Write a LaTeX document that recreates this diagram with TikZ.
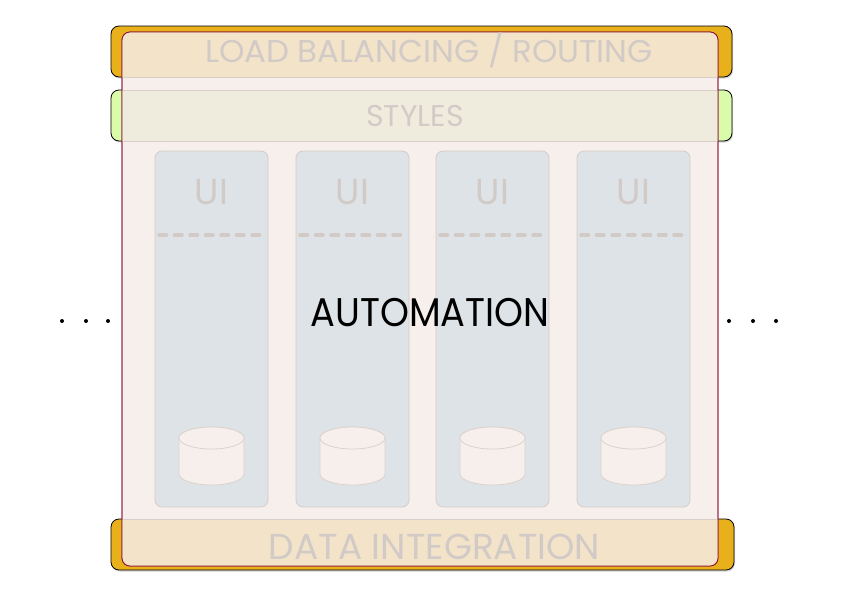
\documentclass[tikz,border=0pt]{standalone}
\usepackage{fontspec}
\setmainfont{Poppins}
\usetikzlibrary{shadows}
\definecolor{orangebar}{HTML}{E8B11C}
\definecolor{greenbar}{HTML}{DAFBAA}
\definecolor{panelfill}{HTML}{F7EFEC}
\definecolor{panelline}{HTML}{8E1235}
\definecolor{bandorange}{HTML}{F2E3C9}
\definecolor{bandgreen}{HTML}{EFECDE}
\definecolor{bandline}{HTML}{D8CDC7}
\definecolor{colfill}{HTML}{DDE3E6}
\definecolor{colline}{HTML}{D5CCC7}
\definecolor{ghost}{HTML}{D2CAC6}
\definecolor{cylline}{HTML}{DCD2CD}
\definecolor{dashcol}{HTML}{D3C9C5}
\tikzset{
  x=1pt,y=-1pt,
  bar/.style={draw=black,line width=0.8pt,rounded corners=8pt,drop shadow={shadow xshift=1pt,shadow yshift=-1.5pt,opacity=0.35}},
  panel/.style={draw=panelline,line width=0.8pt,fill=panelfill,rounded corners=8pt},
  band/.style={draw=bandline,line width=0.6pt},
  column/.style={draw=colline,fill=colfill,line width=0.8pt,rounded corners=7pt},
  ghosttext/.style={text=ghost,inner sep=0pt,anchor=base},
  uitext/.style={ghosttext,font=\fontsize{36}{38}\selectfont},
  cylbody/.style={draw=cylline,fill=panelfill,line width=0.8pt},
  sepline/.style={draw=dashcol,line width=3.5pt,dash pattern=on 7.5pt off 8pt,line cap=round},
  dot/.style={circle,fill=black,inner sep=0pt,minimum size=4pt}
}
\begin{document}
\begin{tikzpicture}
\useasboundingbox (0,0) rectangle (841,595);
% background bars
\path[bar,fill=orangebar] (111,26) rectangle (732,77);
\path[bar,fill=greenbar] (111,90) rectangle (732,141);
\path[bar,fill=orangebar] (111,519) rectangle (734,570);
% main panel
\path[panel] (122,32) rectangle (718,566);
% bands
\begin{scope}
\clip[rounded corners=8pt] (122,32) rectangle (718,566);
\fill[bandorange] (122,32) rectangle (718,77);
\draw[band] (122,77) -- (718,77);
\fill[bandgreen] (122,90) rectangle (718,141);
\draw[band] (122,90) -- (718,90);
\draw[band] (122,141) -- (718,141);
\fill[bandorange] (122,519) rectangle (718,566);
\draw[band] (122,519) -- (718,519);
\end{scope}
\draw[panelline,line width=0.8pt,rounded corners=8pt] (122,32) rectangle (718,566);
% band texts
\node[ghosttext,font=\fontsize{31.5}{33}\selectfont,xscale=1.03] (lb) at (429,62) {LOAD BALANCING / ROUTING};
\node[ghosttext,font=\fontsize{30}{32}\selectfont] (st) at (415,126) {STYLES};
\node[ghosttext,font=\fontsize{36}{38}\selectfont] (di) at (434.5,559) {DATA INTEGRATION};
% columns
\foreach \i/\xl in {1/155,2/296,3/436,4/577}{
  \path[column] (\xl,151) rectangle (\xl+113,507);
  \node[uitext] (ui\i) at (\xl+56.5,204) {UI};
  \coordinate (sl\i) at (\xl+4,235);
  \coordinate (sr\i) at (\xl+110,235);
  \draw[sepline] (sl\i) -- (sr\i);
  \coordinate (db\i) at (\xl+56.5,438);
  \path[cylbody] ([xshift=-32.5pt]db\i) -- ++(0,36) arc[start angle=180,end angle=0,x radius=32.5,y radius=11] -- ++(0,-36) arc[start angle=0,end angle=-180,x radius=32.5,y radius=11] -- cycle;
  \draw[cylbody] (db\i) ellipse [x radius=32.5,y radius=11];
}
% automation
\node[inner sep=0pt,anchor=base,font=\fontsize{40}{42}\selectfont,xscale=0.92] (auto) at (430,326) {AUTOMATION};
% dots
\node[dot] (l1) at (62,321) {};
\node[dot] (l2) at (86,321) {};
\node[dot] (l3) at (108,321) {};
\node[dot] (r1) at (729,321) {};
\node[dot] (r2) at (753,321) {};
\node[dot] (r3) at (776,321) {};
\end{tikzpicture}
\end{document}
